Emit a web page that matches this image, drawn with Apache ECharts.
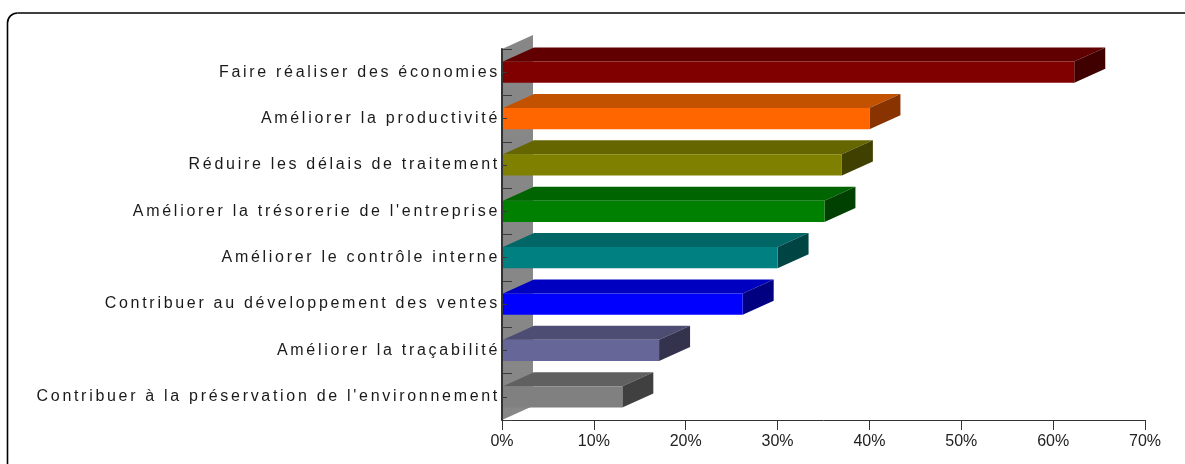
<!DOCTYPE html>
<html>
<head>
<meta charset="utf-8">
<title>Objectifs</title>
<script src="https://cdn.jsdelivr.net/npm/echarts@6/dist/echarts.min.js"></script>
<style>
  html, body { margin: 0; padding: 0; background: #fff; }
  #main { width: 1185px; height: 464px; }
</style>
</head>
<body>
<div id="main"></div>
<script>
// données
var categories = [
  'Faire réaliser des économies',
  'Améliorer la productivité',
  'Réduire les délais de traitement',
  "Améliorer la trésorerie de l'entreprise",
  'Améliorer le contrôle interne',
  'Contribuer au développement des ventes',
  'Améliorer la traçabilité',
  "Contribuer à la préservation de l'environnement"
]
var values = [62.3, 40.0, 37.0, 35.1, 30.0, 26.2, 17.1, 13.1]
var xTicks = { min: 0, max: 70, step: 10 }

// couleurs des faces (avant / dessus / côté)
var frontColors = ['#800000', '#ff6600', '#808000', '#008000', '#008080', '#0000ff', '#666699', '#808080']
var topColors = ['#600000', '#c25200', '#666600', '#006400', '#006666', '#0000c0', '#4d4d73', '#606060']
var sideColors = ['#400000', '#883300', '#404000', '#004000', '#004444', '#000080', '#33334d', '#404040']

var LABEL_COLOR = '#1a1a1a'
var DEPTH_X = 31
var DEPTH_Y = -14

// lettres espacées pour les libellés de catégories (comme sur l'original)
var baseFillText = CanvasRenderingContext2D.prototype.fillText
CanvasRenderingContext2D.prototype.fillText = function (text, x, y, maxWidth) {
  this.letterSpacing = this.fillStyle === LABEL_COLOR ? '2.7px' : '0px'
  if (maxWidth === undefined) return baseFillText.call(this, text, x, y)
  return baseFillText.call(this, text, x, y, maxWidth)
}

function renderWall (params, api) {
  var n = categories.length
  var band = api.size([0, 1])[1]
  var x0 = api.coord([0, 0])[0]
  var yTop = api.coord([0, 0])[1] - band / 2
  var yBot = api.coord([0, n - 1])[1] + band / 2
  return {
    type: 'polygon',
    shape: { points: [[x0, yTop], [x0 + DEPTH_X, yTop + DEPTH_Y], [x0 + DEPTH_X, yBot + DEPTH_Y], [x0, yBot]] },
    style: { fill: '#878787' }
  }
}

function renderBar (params, api) {
  var idx = api.value(1)
  var p0 = api.coord([0, idx])
  var p1 = api.coord([api.value(0), idx])
  var h = api.size([0, 1])[1] * 0.46
  var top = p0[1] - h / 2
  var bottom = top + h
  var x0 = p0[0] + 1
  var x1 = p1[0]
  return {
    type: 'group',
    children: [
      {
        type: 'polygon',
        shape: { points: [[x0, top], [x1, top], [x1 + DEPTH_X, top + DEPTH_Y], [x0 + DEPTH_X, top + DEPTH_Y]] },
        style: { fill: topColors[idx] }
      },
      {
        type: 'polygon',
        shape: { points: [[x1, top], [x1 + DEPTH_X, top + DEPTH_Y], [x1 + DEPTH_X, bottom + DEPTH_Y], [x1, bottom]] },
        style: { fill: sideColors[idx] }
      },
      {
        type: 'rect',
        shape: { x: x0, y: top, width: x1 - x0, height: h },
        style: { fill: frontColors[idx] }
      }
    ]
  }
}

var chart = echarts.init(document.getElementById('main'), null, { renderer: 'canvas' })

// cadre arrondi, coupé à droite et en bas
var frameStyle = { fill: null, stroke: '#000', lineWidth: 1.6 }

var option = {
  animation: false,
  backgroundColor: '#ffffff',
  graphic: [
    { type: 'polyline', silent: true, shape: { points: [[7.5, 464], [7.5, 23]] }, style: frameStyle },
    { type: 'arc', silent: true, shape: { cx: 17.5, cy: 23, r: 10, startAngle: Math.PI, endAngle: Math.PI * 1.5 }, style: frameStyle },
    { type: 'polyline', silent: true, shape: { points: [[17.5, 13], [1185, 13]] }, style: frameStyle }
  ],
  grid: { left: 502, right: 40, top: 49, bottom: 44 },
  xAxis: {
    type: 'value',
    min: xTicks.min,
    max: xTicks.max,
    interval: xTicks.step,
    z: 10,
    axisLine: { show: true, lineStyle: { color: '#333', width: 1 } },
    axisTick: { show: true, length: 10, lineStyle: { color: '#333' } },
    axisLabel: {
      formatter: '{value}%',
      color: '#222222',
      fontSize: 16,
      fontFamily: 'Liberation Sans',
      margin: 14
    },
    splitLine: { show: false }
  },
  yAxis: [
    {
      type: 'category',
      data: categories,
      inverse: true,
      z: 10,
      axisLine: { show: true, lineStyle: { color: '#333', width: 2 } },
      axisTick: { show: true, inside: true, length: 10, alignWithLabel: false, lineStyle: { color: '#3a3a3a' } },
      axisLabel: {
        color: LABEL_COLOR,
        fontSize: 16,
        fontFamily: 'Liberation Sans',
        margin: 2
      }
    },
    {
      type: 'category',
      data: categories,
      inverse: true,
      position: 'left',
      z: 10,
      axisLine: { show: false },
      axisTick: { show: true, inside: true, length: 5, alignWithLabel: true, lineStyle: { color: '#3a3a3a' } },
      axisLabel: { show: false }
    }
  ],
  series: [
    {
      name: 'paroi',
      type: 'custom',
      z: 1,
      silent: true,
      renderItem: renderWall,
      data: [[0, 0]],
      encode: { x: 0, y: 1 }
    },
    {
      name: 'objectifs',
      type: 'custom',
      z: 2,
      renderItem: renderBar,
      data: values.map(function (v, i) { return [v, i] }),
      encode: { x: 0, y: 1 }
    }
  ]
}

chart.setOption(option)
</script>
</body>
</html>
